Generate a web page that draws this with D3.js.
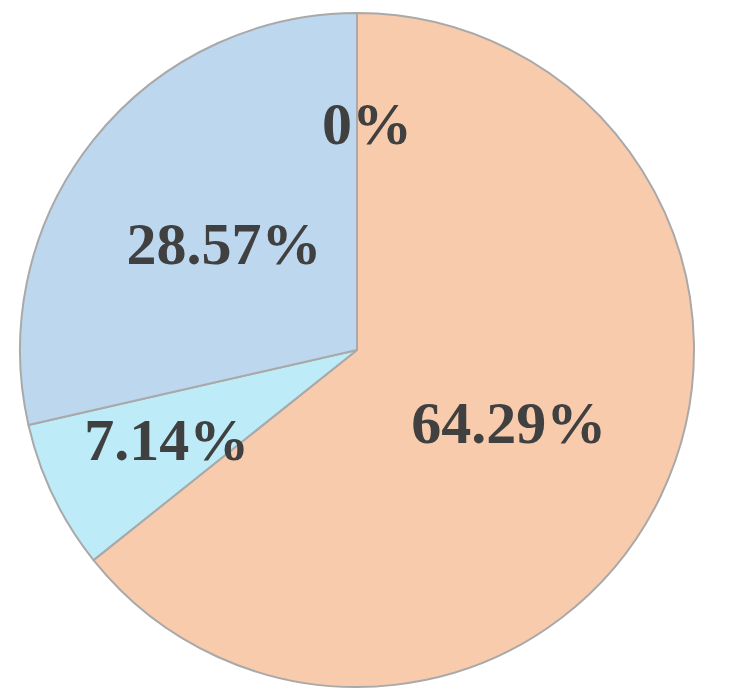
<!DOCTYPE html>
<html>
<head>
<meta charset="utf-8">
<script src="https://cdn.jsdelivr.net/npm/d3@7"></script>
<style>
  html, body { margin: 0; padding: 0; background: #ffffff; }
  svg { display: block; }
</style>
</head>
<body>
<svg id="chart" width="731" height="700"></svg>
<script>
// Data
const categories = ["A", "B", "C", "D"];
const values = [0, 9, 1, 4];
const labels = ["0%", "64.29%", "7.14%", "28.57%"];
const colors = ["#F8CBAD", "#F8CBAD", "#BDEBF8", "#BDD7EE"];

// Layout
const width = 731, height = 700;
const cx = 357, cy = 350, R = 337;
const labelRadiusFactor = [0.67, 0.5, 0.62, 0.505];
const labelShiftX = [10, 0, -2, 0];

const svg = d3.select("#chart");
const g = svg.append("g").attr("transform", `translate(${cx},${cy})`);

const pie = d3.pie().sort(null).value(d => d)(values);
const arc = d3.arc().innerRadius(0).outerRadius(R);

g.selectAll("path.slice")
  .data(pie)
  .join("path")
  .attr("class", "slice")
  .attr("d", arc)
  .attr("fill", (d, i) => colors[i])
  .attr("stroke", "#A9A9A9")
  .attr("stroke-width", 2)
  .attr("stroke-linejoin", "round");

g.selectAll("text.lbl")
  .data(pie)
  .join("text")
  .attr("class", "lbl")
  .attr("transform", (d, i) => {
    const a = (d.startAngle + d.endAngle) / 2;
    const r = R * labelRadiusFactor[i];
    return `translate(${Math.sin(a) * r + labelShiftX[i]},${-Math.cos(a) * r})`;
  })
  .attr("text-anchor", "middle")
  .attr("dy", "0.33em")
  .attr("font-family", "'Liberation Serif', 'Times New Roman', serif")
  .attr("font-weight", "bold")
  .attr("font-size", 60)
  .attr("fill", "#404040")
  .text((d, i) => labels[i]);
</script>
</body>
</html>
